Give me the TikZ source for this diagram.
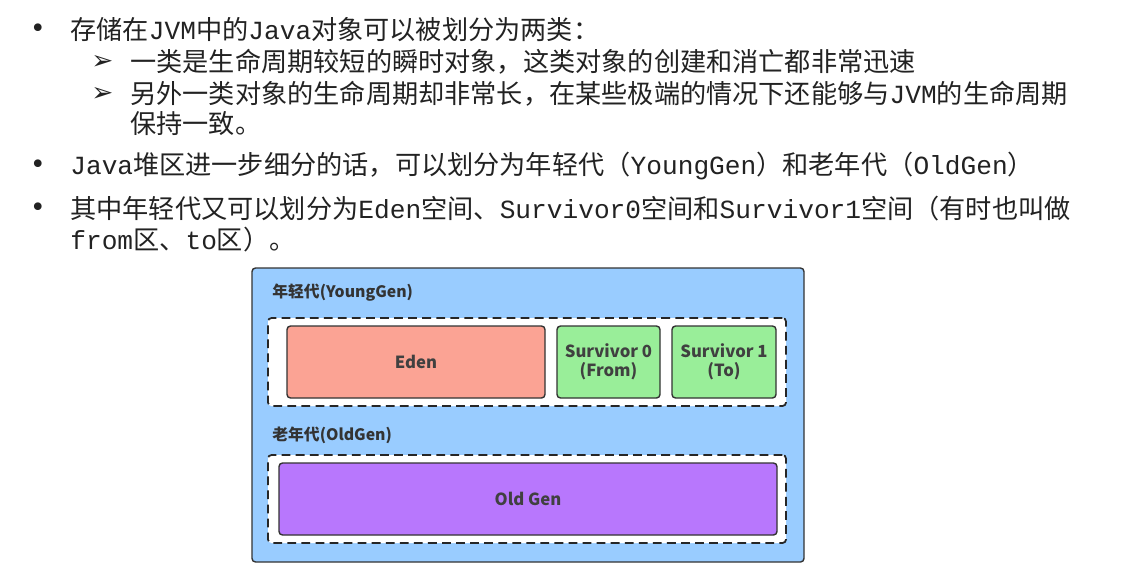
\documentclass[tikz,border=0pt]{standalone}
\usepackage{fontspec}
\setmainfont{Noto Sans CJK SC}
\newfontfamily\lat{Liberation Mono}
\newfontfamily\arrowfnt{DejaVu Sans}
\usetikzlibrary{calc}

\definecolor{heapblue}{HTML}{99CCFF}
\definecolor{edenred}{HTML}{FBA394}
\definecolor{survgreen}{HTML}{99EE99}
\definecolor{oldpurple}{HTML}{B877FD}
\definecolor{txtgray}{HTML}{222222}

\newcommand{\m}[1]{{\lat #1}}

\begin{document}
\begin{tikzpicture}[
	line/.style={anchor=west,inner sep=0pt,font=\fontsize{14.9}{16}\selectfont,text=txtgray},
	dot/.style={inner sep=0pt,font=\arrowfnt\fontsize{15}{16}\selectfont,text=txtgray},
	area/.style={draw=black!80,line width=0.8pt,rounded corners=2pt},
	zone/.style={draw=black!85,dashed,dash pattern=on 5pt off 3pt,line width=1pt,fill=white,rounded corners=2pt},
	cell/.style={draw=black!80,line width=0.8pt,rounded corners=2pt,font=\fontsize{9.5}{11}\selectfont\bfseries,text=black!75,align=center,inner sep=0pt},
	title/.style={anchor=west,inner sep=0pt,font=\fontsize{9}{11}\selectfont\bfseries,text=black!80}
	]
			\useasboundingbox (0,0) rectangle (22.72,-11.28);
			
			\node[dot] (b1)at(0.76,-0.62) {•};
			\node[line] (t1)at(1.40,-0.60) {存储在\m{JVM}中的\m{Java}对象可以被划分为两类：};
			\node[dot] (s1)at(2.05,-1.24) {\bfseries ➢};
			\node[line] (t2)at(2.60,-1.24) {一类是生命周期较短的瞬时对象，这类对象的创建和消亡都非常迅速};
			\node[dot] (s2)at(2.05,-1.88) {\bfseries ➢};
			\node[line] (t3)at(2.60,-1.88) {另外一类对象的生命周期却非常长，在某些极端的情况下还能够与\m{JVM}的生命周期};
			\node[line] (t4)at(2.60,-2.48) {保持一致。};
			\node[dot] (b2)at(0.76,-3.34) {•};
			\node[line] (t5)at(1.40,-3.32) {\m{Java}堆区进一步细分的话，可以划分为年轻代（\m{YoungGen}）和老年代（\m{OldGen}）};
			\node[dot] (b3)at(0.76,-4.20) {•};
			\node[line] (t6)at(1.40,-4.18) {其中年轻代又可以划分为\m{Eden}空间、\m{Survivor0}空间和\m{Survivor1}空间（有时也叫做};
			\node[line] (t7)at(1.40,-4.80) {\m{from}区、\m{to}区）。};
			
			\node[area,fill=heapblue,minimum width=11.04cm,minimum height=5.88cm] (heap)at(10.56,-8.30) {};
			\node[title] (young)at(5.44,-5.86) {年轻代(YoungGen)};
			\node[zone,minimum width=10.36cm,minimum height=1.76cm] (yzone)at(10.54,-7.24) {};
			\node[cell,fill=edenred,minimum width=5.16cm,minimum height=1.44cm] (eden)at(8.32,-7.24) {Eden};
			\node[cell,fill=survgreen,minimum width=2.06cm,minimum height=1.44cm] (s0)at(12.17,-7.24) {Survivor 0\\(From)};
			\node[cell,fill=survgreen,minimum width=2.08cm,minimum height=1.44cm] (s1box)at(14.48,-7.24) {Survivor 1\\(To)};
			\node[title] (old)at(5.44,-8.70) {老年代(OldGen)};
			\node[zone,minimum width=10.36cm,minimum height=1.76cm] (ozone)at(10.54,-9.98) {};
			\node[cell,fill=oldpurple,minimum width=9.96cm,minimum height=1.44cm] (oldgen)at(10.56,-9.98) {Old Gen};
		\end{tikzpicture}
\end{document}
